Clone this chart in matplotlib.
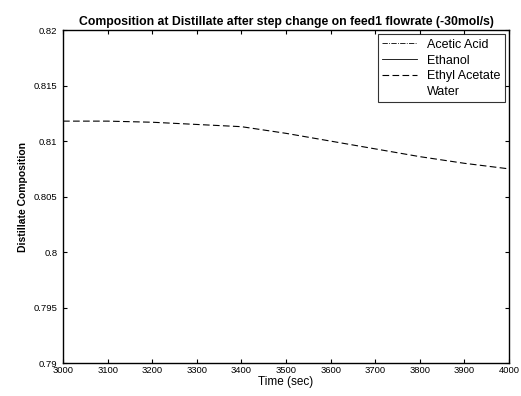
import matplotlib
matplotlib.use("Agg")
import matplotlib.pyplot as plt

# data (only ethyl acetate falls inside the shown range)
time_s = [3000, 3100, 3200, 3300, 3400, 3500, 3600, 3700, 3800, 3900, 4000]
ethyl_acetate = [0.8118, 0.8118, 0.8117, 0.8115, 0.8113, 0.8107, 0.8100,
                 0.8093, 0.8086, 0.8080, 0.8075]
series_names = ["Acetic Acid", "Ethanol", "Ethyl Acetate", "Water"]
x_ticks = [3000, 3100, 3200, 3300, 3400, 3500, 3600, 3700, 3800, 3900, 4000]
y_ticks = [0.79, 0.795, 0.8, 0.805, 0.81, 0.815, 0.82]
y_labels = ["0.79", "0.795", "0.8", "0.805", "0.81", "0.815", "0.82"]

plt.rcParams['font.family'] = ['Liberation Sans', 'DejaVu Sans']

fig = plt.figure(figsize=(5.21, 3.96), dpi=100)
ax = fig.add_axes([0.121, 0.083, 0.856, 0.841])

# other components lie outside the y range; keep them for the legend
ax.plot([], [], color='black', lw=0.6, linestyle='-.', label=series_names[0])
ax.plot([], [], color='black', lw=0.6, linestyle='-', label=series_names[1])
ax.plot(time_s, ethyl_acetate, color='black', lw=0.8, linestyle=(0, (6, 3)),
        label=series_names[2])
ax.plot([], [], color='white', lw=0.6, linestyle=':', label=series_names[3])

ax.set_xlim(3000, 4000)
ax.set_ylim(0.79, 0.82)
ax.set_xticks(x_ticks)
ax.set_xticklabels([str(t) for t in x_ticks])
ax.set_yticks(y_ticks)
ax.set_yticklabels(y_labels)
ax.tick_params(direction='in', top=True, right=True, labelsize=6.8,
               length=3, width=0.8)
ax.tick_params(axis='y', pad=4)
ax.tick_params(axis='x', pad=2)
for s in ax.spines.values():
    s.set_linewidth(1.0)

ax.set_title("Composition at Distillate after step change on feed1 flowrate (-30mol/s)",
             fontsize=8.8, fontweight='bold', pad=4)
ax.set_xlabel("Time (sec)", fontsize=8.5, labelpad=1)
ax.set_ylabel("Distillate Composition", fontsize=7.5, fontweight='bold', labelpad=4)

leg = ax.legend(loc='upper right', fontsize=9, frameon=True, fancybox=False,
                borderpad=0.35, labelspacing=0.3, handlelength=2.8,
                borderaxespad=0.35, handletextpad=0.8)
leg.get_frame().set_edgecolor('black')
leg.get_frame().set_linewidth(0.8)

fig.savefig("out.png", dpi=100)
